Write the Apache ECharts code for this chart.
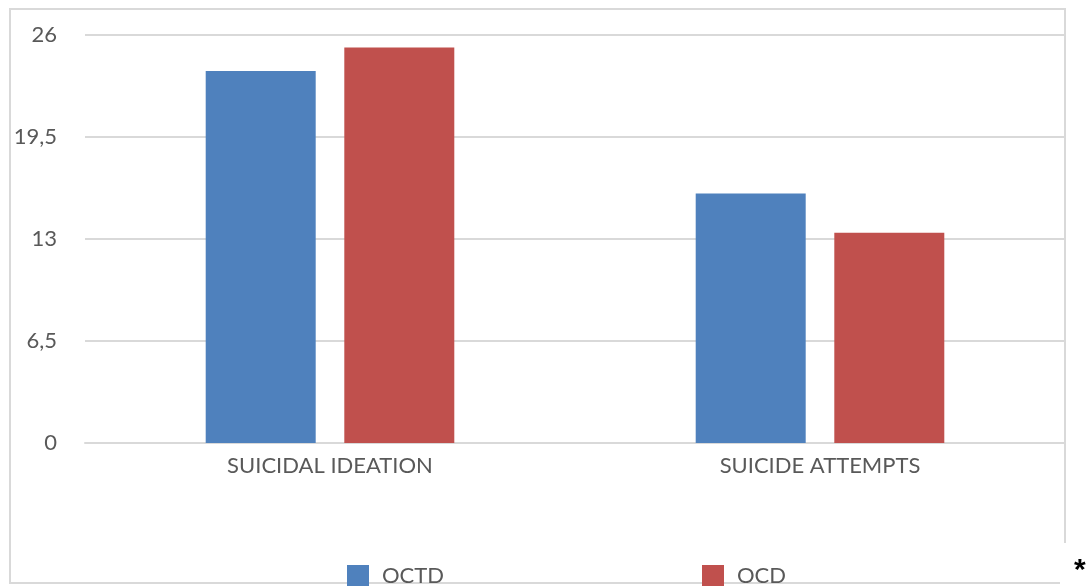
<!DOCTYPE html>
<html>
<head>
<meta charset="utf-8">
<script src="https://cdn.jsdelivr.net/npm/echarts@6/dist/echarts.min.js"></script>
<style>
  html, body { margin: 0; padding: 0; background: #ffffff; }
  #chart { width: 1086px; height: 586px; }
</style>
</head>
<body>
<div id="chart"></div>
<script>
// Categories and series values
const categories = ['SUICIDAL IDEATION', 'SUICIDE ATTEMPTS'];
const seriesNames = ['OCTD', 'OCD'];
const octdValues = [23.7, 15.9];
const ocdValues = [25.2, 13.4];
const yTicks = [0, 6.5, 13, 19.5, 26];

const FONT = 'Lato, "Liberation Sans", sans-serif';
const TEXT_COLOR = '#595959';
const GRID_COLOR = '#d9d9d9';

const chart = echarts.init(document.getElementById('chart'), null, { renderer: 'canvas' });

chart.setOption({
  backgroundColor: '#ffffff',
  animation: false,
  grid: { left: 85, right: 21, top: 35, bottom: 143, containLabel: false },
  xAxis: {
    type: 'category',
    data: categories,
    axisLine: { show: true, lineStyle: { color: GRID_COLOR, width: 2 } },
    axisTick: { show: false },
    axisLabel: { color: TEXT_COLOR, fontFamily: FONT, fontSize: 22, margin: 12 }
  },
  yAxis: {
    type: 'value',
    min: yTicks[0],
    max: yTicks[yTicks.length - 1],
    interval: 6.5,
    axisLine: { show: false },
    axisTick: { show: false },
    splitLine: { lineStyle: { color: GRID_COLOR, width: 2 } },
    axisLabel: {
      color: TEXT_COLOR, fontFamily: FONT, fontSize: 22, margin: 28,
      formatter: v => String(v).replace('.', ',')
    }
  },
  legend: [
    {
      data: [seriesNames[0]], left: 342, top: 560, z: 110,
      itemWidth: 22, itemHeight: 22, itemGap: 0,
      icon: 'rect',
      textStyle: { color: TEXT_COLOR, fontFamily: FONT, fontSize: 22, padding: [0, 0, 0, 8] }
    },
    {
      data: [seriesNames[1]], left: 697, top: 560, z: 110,
      itemWidth: 22, itemHeight: 22, itemGap: 0,
      icon: 'rect',
      textStyle: { color: TEXT_COLOR, fontFamily: FONT, fontSize: 22, padding: [0, 0, 0, 8] }
    }
  ],
  series: [
    {
      name: seriesNames[0], type: 'bar', data: octdValues,
      barWidth: 110, barGap: '26%',
      itemStyle: { color: '#4f81bd' }
    },
    {
      name: seriesNames[1], type: 'bar', data: ocdValues,
      barWidth: 110, barGap: '26%',
      itemStyle: { color: '#c0504d' }
    }
  ],
  graphic: [
    {
      type: 'rect', silent: true, z: 1,
      shape: { x: 10, y: 9, width: 1055, height: 574 },
      style: { fill: 'none', stroke: GRID_COLOR, lineWidth: 2 }
    },
    {
      type: 'rect', silent: true, z: 2,
      shape: { x: 1060, y: 543, width: 26, height: 43 },
      style: { fill: '#ffffff' }
    },
    {
      type: 'text', silent: true, z: 3,
      left: 1074, top: 556,
      style: { text: '*', fill: '#000000', font: 'bold 30px "Liberation Sans", sans-serif' }
    }
  ]
});
</script>
</body>
</html>
